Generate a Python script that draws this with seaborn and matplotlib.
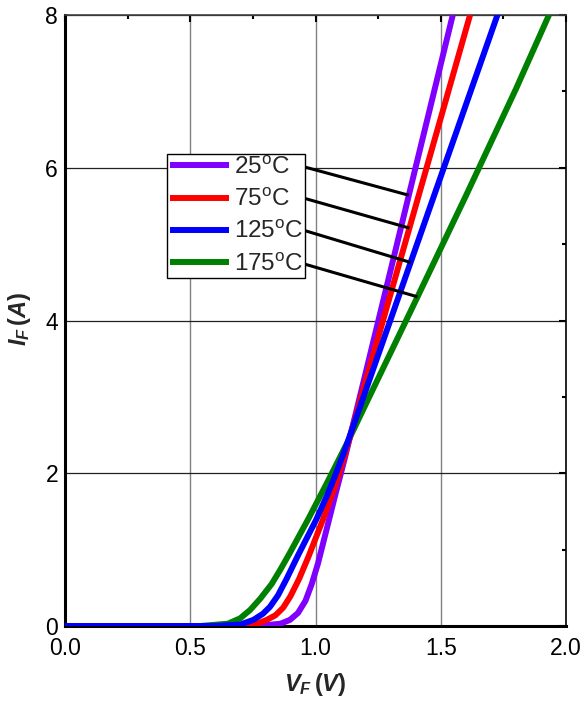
import numpy as np
import pandas as pd
import matplotlib
matplotlib.use("Agg")
import matplotlib.pyplot as plt
import seaborn as sns

# ---- data ----
temps = ["25", "75", "125", "175"]
colors = ["#8000FF", "#FF0000", "#0000FF", "#008000"]

v_25 = [0.0, 0.70, 0.80, 0.86, 0.898, 0.93, 0.96, 0.985, 1.01, 1.047, 1.08, 1.118, 1.2, 1.3, 1.4, 1.548]
i_25 = [0.0, 0.0, 0.01, 0.03, 0.08, 0.17, 0.33, 0.55, 0.82, 1.30, 1.73, 2.21, 3.31, 4.66, 6.01, 8.0]

v_75 = [0.0, 0.65, 0.76, 0.805, 0.84, 0.871, 0.90, 0.935, 0.971, 1.029, 1.08, 1.118, 1.2, 1.3, 1.4, 1.5, 1.617]
i_75 = [0.0, 0.0, 0.02, 0.08, 0.14, 0.24, 0.39, 0.62, 0.90, 1.387, 1.85, 2.25, 3.20, 4.35, 5.50, 6.65, 8.0]

v_125 = [0.0, 0.60, 0.70, 0.752, 0.79, 0.818, 0.85, 0.885, 0.931, 1.002, 1.045, 1.08, 1.12, 1.2, 1.4, 1.6, 1.737]
i_125 = [0.0, 0.0, 0.02, 0.08, 0.16, 0.25, 0.40, 0.62, 0.93, 1.387, 1.70, 1.98, 2.33, 3.08, 4.95, 6.82, 8.1]

v_175 = [0.0, 0.54, 0.65, 0.699, 0.739, 0.78, 0.825, 0.86, 0.898, 0.971, 1.05, 1.13, 1.2, 1.4, 1.6, 1.8, 1.932]
i_175 = [0.0, 0.0, 0.03, 0.10, 0.21, 0.36, 0.55, 0.74, 0.96, 1.40, 1.90, 2.42, 2.90, 4.26, 5.63, 7.03, 8.0]

# leader lines: start current at legend edge, end current on curve
leader_start_v = 0.934
leader_start_i = [6.03, 5.62, 5.20, 4.76]
leader_end_i = [5.64, 5.21, 4.76, 4.31]

xticks = [0.0, 0.5, 1.0, 1.5, 2.0]
yticks = [0, 2, 4, 6, 8]

curves = {"25": (v_25, i_25), "75": (v_75, i_75), "125": (v_125, i_125), "175": (v_175, i_175)}
frames = []
for t in temps:
    v, i = curves[t]
    frames.append(pd.DataFrame({"V": v, "I": i, "T": t}))
df = pd.concat(frames, ignore_index=True)

# ---- style ----
sns.set_style("white")
plt.rcParams["font.family"] = ["Liberation Sans", "DejaVu Sans"]
plt.rcParams["mathtext.fontset"] = "custom"
plt.rcParams["mathtext.it"] = "Liberation Sans:italic:bold"
plt.rcParams["mathtext.rm"] = "Liberation Sans:bold"
plt.rcParams["mathtext.bf"] = "Liberation Sans:bold"
plt.rcParams["mathtext.sf"] = "Liberation Sans"

fig = plt.figure(figsize=(5.84, 7.01), dpi=100)
ax = fig.add_axes([65 / 584, 75 / 701, 501 / 584, 611 / 701])

sns.lineplot(data=df, x="V", y="I", hue="T", hue_order=temps, palette=colors,
             sort=False, estimator=None, units="T", lw=4.3, ax=ax, legend=False)
lines = ax.lines[:4]
zorders = [3, 3.2, 3.4, 3.1]
for ln, z in zip(lines, zorders):
    ln.set_zorder(z)
    ln.set_solid_capstyle("butt")
    ln.set_solid_joinstyle("round")

ax.set_xlim(0, 2)
ax.set_ylim(0, 8)
ax.set_xticks(xticks)
ax.set_xticklabels([f"{x:.1f}" for x in xticks])
ax.set_yticks(yticks)
ax.set_yticklabels([str(y) for y in yticks])
ax.set_xticks(np.arange(0.25, 2.0, 0.5), minor=True)
ax.set_yticks(np.arange(1, 8, 2), minor=True)

ax.xaxis.grid(True, which="major", color="#808080", lw=1.0)
ax.yaxis.grid(True, which="major", color="#202020", lw=0.9)
ax.set_axisbelow(True)

ax.tick_params(which="both", direction="in", top=True, right=True,
               labelsize=16.5, colors="black", width=1.5)
ax.tick_params(which="major", length=5)
ax.tick_params(which="minor", length=3)
ax.tick_params(axis="x", pad=8)
ax.tick_params(axis="y", pad=5)

for s in ["left", "bottom"]:
    ax.spines[s].set_linewidth(2.2)
    ax.spines[s].set_color("black")
ax.spines["right"].set_linewidth(1.2)
ax.spines["right"].set_color("black")
ax.spines["top"].set_linewidth(1.2)
ax.spines["top"].set_color("#404040")
for s in ax.spines.values():
    s.set_visible(True)

ax.set_xlabel(r"$V_F\,(V)$", fontsize=17, labelpad=8)
ax.set_ylabel(r"$I_F\,(A)$", fontsize=17)
ax.yaxis.set_label_coords(-0.064, 0.503)

# legend
labels = [rf"{t}$^{{\mathsf{{o}}}}$C" for t in temps]
leg = ax.legend(lines, labels, loc="upper left", bbox_to_anchor=(0.204, 0.7725),
                fontsize=17.5, frameon=True, fancybox=False, framealpha=1,
                edgecolor="black", borderpad=0.1, labelspacing=0.42,
                handlelength=2.43, handletextpad=0.2, borderaxespad=0)
leg.get_frame().set_linewidth(1.0)
for h in leg.get_lines():
    h.set_linewidth(4.3)
leg.set_zorder(5)

# leader lines
for k, t in enumerate(temps):
    v, i = curves[t]
    ve = np.interp(leader_end_i[k], i, v)
    ax.plot([leader_start_v, ve], [leader_start_i[k], leader_end_i[k]],
            color="black", lw=2.2, zorder=4, solid_capstyle="butt")

fig.savefig("out.png", dpi=100)
